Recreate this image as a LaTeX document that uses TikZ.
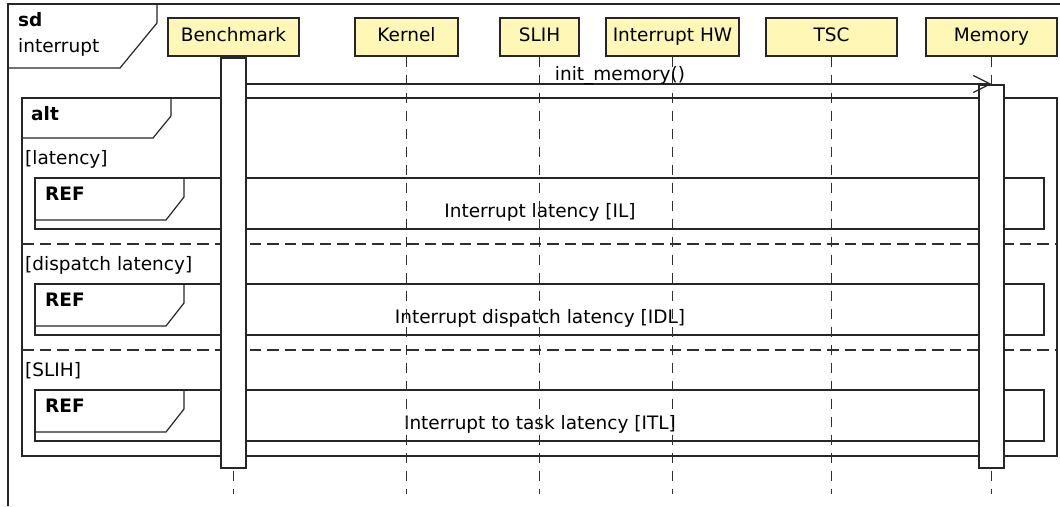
\documentclass[tikz,border=0pt]{standalone}
\usepackage{fontspec}
\setmainfont{DejaVu Sans}
\usetikzlibrary{arrows.meta}

\definecolor{headfill}{HTML}{FFF7B5}
\definecolor{ink}{HTML}{262626}
\definecolor{lifegray}{HTML}{2E2E2E}

\tikzset{
  every node/.style={font=\fontsize{18.5}{22}\selectfont, text=black},
  frameline/.style={draw=ink, line width=1.2pt},
  headbox/.style={draw=ink, line width=1.2pt, fill=headfill, inner sep=0pt,
    minimum height=38pt, text height=13pt, text depth=5pt},
  lifeline/.style={draw=lifegray, line width=1.35pt, dash pattern=on 10pt off 8pt},
  separator/.style={draw=lifegray, line width=1.2pt, dash pattern=on 11.5pt off 6pt},
  actbar/.style={draw=ink, line width=1.2pt, fill=white, inner sep=0pt, minimum width=25pt},
  msgline/.style={draw=ink, line width=1.2pt, -{Straight Barb[length=17pt,width=17pt,line width=1.2pt]}},
  lbl/.style={anchor=base west, inner sep=0pt},
  boldlbl/.style={anchor=base west, inner sep=0pt, font=\fontsize{18.5}{22}\selectfont\bfseries},
  reftext/.style={anchor=base, inner sep=0pt}
}

\begin{document}
\begin{tikzpicture}[x=1pt, y=-1pt]
\useasboundingbox (0,0) rectangle (1060,506);
\fill[white] (0,0) rectangle (1060,506);

% outer sequence diagram frame
\draw[frameline] (8,506) -- (8,4) -- (1060,4);
\draw[frameline] (157,4) -- (157,23) -- (120,68) -- (8,68);
\node[boldlbl] (sdkw) at (18,27) {sd};
\node[lbl] (sdname) at (18,52) {interrupt};

% alt combined fragment
\draw[frameline] (22,98) rectangle (1057,456);
\draw[frameline] (171,98) -- (171,116) -- (153,138) -- (22,138);
\node[boldlbl] (altkw) at (31,120) {alt};

% operand guards and separators
\node[lbl] (g1) at (25,164) {[latency]};
\draw[separator] (22,244) -- (1057,244);
\node[lbl] (g2) at (25,270) {[dispatch latency]};
\draw[separator] (22,350) -- (1057,350);
\node[lbl] (g3) at (25,376) {[SLIH]};

% interaction uses
\foreach \t/\name/\txt in {178/il/Interrupt latency [IL],
                           284/idl/Interrupt dispatch latency [IDL],
                           390/itl/Interrupt to task latency [ITL]} {
  \draw[frameline] (35,\t) rectangle (1044,\t+51);
  \draw[frameline] (184,\t) -- (184,\t+19) -- (166,\t+42) -- (35,\t+42);
  \node[boldlbl] (ref\name) at (45,\t+22) {REF};
  \node[reftext] (txt\name) at (540,\t+39) {\txt};
}

% lifeline heads
\node[headbox, minimum width=131pt] (bench) at (233.5,37) {Benchmark};
\node[headbox, minimum width=103pt] (kern)  at (406.5,37) {Kernel};
\node[headbox, minimum width=79pt]  (slih)  at (539.5,37) {SLIH};
\node[headbox, minimum width=133pt] (ihw)   at (672.5,37) {Interrupt HW};
\node[headbox, minimum width=131pt] (tsc)   at (831.5,37) {TSC};
\node[headbox, minimum width=131pt] (mem)   at (991.5,37) {Memory};

% lifelines
\coordinate (lifeend) at (0,494);
\foreach \h in {bench,kern,slih,ihw,tsc,mem} {
  \draw[lifeline] (\h.south) -- (\h.south |- lifeend);
}

% execution specifications
\node[actbar, minimum height=410pt] (actbench) at (233.5,263) {};
\node[actbar, minimum height=383pt] (actmem)   at (991.5,276.5) {};

% synchronous message
\coordinate (msgy) at (0,84);
\draw[msgline] (actbench.east |- msgy) -- (mem.south |- msgy);
\node[reftext] (msglbl) at (620,80) {init\_memory()};
\end{tikzpicture}
\end{document}
